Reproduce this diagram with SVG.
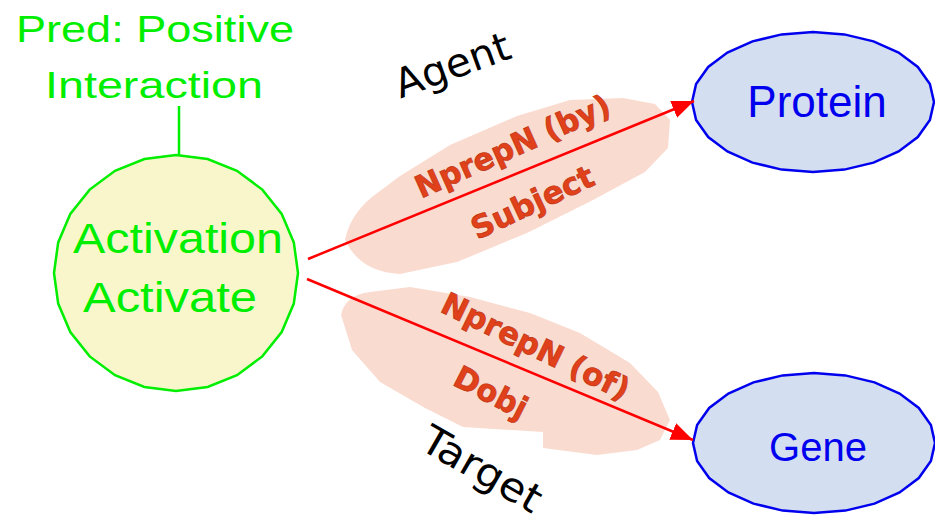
<svg xmlns="http://www.w3.org/2000/svg" width="935" height="516" viewBox="0 0 935 516">
  <style>
    .pred { fill: #00ee00; font-family: "Liberation Sans", Arial, sans-serif; }
    .ent { fill: #d3dff0; stroke: #0000ee; stroke-width: 2.5; }
    .entText { fill: #0000ee; font-family: "Liberation Sans", Arial, sans-serif; text-anchor: middle; }
    .role { fill: #000; font-family: "DejaVu Sans", sans-serif; font-size: 40px; text-anchor: middle; }
    .blob { fill: #fadbd0; stroke: none; }
    .edgeLbl { fill: #e0401a; stroke: #b8300e; stroke-width: 0.6; font-family: "DejaVu Sans", sans-serif; font-weight: bold; text-anchor: middle; }
    .conn { stroke: #ff0000; stroke-width: 2.5; fill: none; marker-end: url(#arrow); }
  </style>
  <defs>
    <marker id="arrow" markerUnits="userSpaceOnUse" markerWidth="24" markerHeight="20" refX="22" refY="9" orient="auto">
      <path d="M0,0 L22,9 L0,18 Z" fill="#ff0000"/>
    </marker>
  </defs>

  <rect width="935" height="516" fill="#ffffff"/>

  <!-- shaded regions behind the relation labels -->
  <g id="labelShades">
    <path class="blob" d="M345,240 Q350,215 372,197 L400,176 L450,145 L517,116 L570,100 L623,98 L655,104 L670,120 L668,148 L645,172 L593,200 L527,233 L457,262 L400,274 Q360,272 345,240 Z"/>
    <path class="blob" d="M341,315 Q345,295 370,292 L410,287 L470,297 L530,313 L580,333 L630,363 L658,392 L670,420 L660,440 L637,450 L597,455 L543,448 L543,432 L463,427 L425,408 L380,382 L352,350 Z"/>
  </g>

  <!-- predicate node -->
  <g id="activation">
    <text class="pred" x="155" y="42" font-size="37" text-anchor="middle" textLength="278" lengthAdjust="spacingAndGlyphs">Pred: Positive</text>
    <text class="pred" x="154" y="98" font-size="37" text-anchor="middle" textLength="218" lengthAdjust="spacingAndGlyphs">Interaction</text>
    <line x1="179" y1="106" x2="179" y2="161" stroke="#00ee00" stroke-width="2.5"/>
    <polygon fill="#faf6cc" stroke="#00ee00" stroke-width="2.5" points="298,273 293.8,303.6 281.7,332 262.3,356.4 237,375.2 207.6,387 176,391 144.4,387 115,375.2 89.7,356.4 70.3,332 58.2,303.6 54,273 58.2,242.4 70.3,214 89.7,189.6 115,170.8 144.4,159 176,155 207.6,159 237,170.8 262.3,189.6 281.7,214 293.8,242.4"/>
    <text class="pred" x="178" y="253" font-size="42" text-anchor="middle" textLength="210" lengthAdjust="spacingAndGlyphs">Activation</text>
    <text class="pred" x="170" y="312" font-size="42" text-anchor="middle" textLength="174" lengthAdjust="spacingAndGlyphs">Activate</text>
  </g>

  <!-- argument nodes -->
  <g id="protein">
    <polygon class="ent" points="934,102 929.9,120.1 917.8,137 898.6,151.5 873.5,162.6 844.3,169.6 813,172 781.7,169.6 752.5,162.6 727.4,151.5 708.2,137 696.1,120.1 692,102 696.1,83.9 708.2,67 727.4,52.5 752.5,41.4 781.7,34.4 813,32 844.3,34.4 873.5,41.4 898.6,52.5 917.8,67 929.9,83.9"/>
    <text class="entText" x="817" y="117" font-size="44">Protein</text>
  </g>

  <g id="gene">
    <polygon class="ent" transform="translate(1,341)" points="934,102 929.9,120.1 917.8,137 898.6,151.5 873.5,162.6 844.3,169.6 813,172 781.7,169.6 752.5,162.6 727.4,151.5 708.2,137 696.1,120.1 692,102 696.1,83.9 708.2,67 727.4,52.5 752.5,41.4 781.7,34.4 813,32 844.3,34.4 873.5,41.4 898.6,52.5 917.8,67 929.9,83.9"/>
    <text class="entText" x="818" y="461" font-size="40">Gene</text>
  </g>

  <!-- connectors -->
  <g id="connectors">
    <line class="conn" x1="308" y1="259" x2="694" y2="101"/>
    <line class="conn" x1="307" y1="279" x2="693" y2="440"/>
  </g>

  <!-- relation labels -->
  <g id="edgeLabels">
    <text class="edgeLbl" transform="translate(517,156) rotate(-24)" font-size="31" textLength="210" lengthAdjust="spacingAndGlyphs">NprepN (by)</text>
    <text class="edgeLbl" transform="translate(537,212) rotate(-25)" font-size="31" textLength="132" lengthAdjust="spacingAndGlyphs">Subject</text>
    <text class="edgeLbl" transform="translate(531,356) rotate(26)" font-size="31" textLength="205" lengthAdjust="spacingAndGlyphs">NprepN (of)</text>
    <text class="edgeLbl" transform="translate(486,402) rotate(27)" font-size="31" textLength="78" lengthAdjust="spacingAndGlyphs">Dobj</text>
  </g>

  <!-- role labels -->
  <g id="roles">
    <text class="role" transform="translate(457,78) rotate(-20)" textLength="120" lengthAdjust="spacingAndGlyphs">Agent</text>
    <text class="role" transform="translate(475,481) rotate(30)" font-size="38" textLength="132" lengthAdjust="spacingAndGlyphs">Target</text>
  </g>
</svg>
